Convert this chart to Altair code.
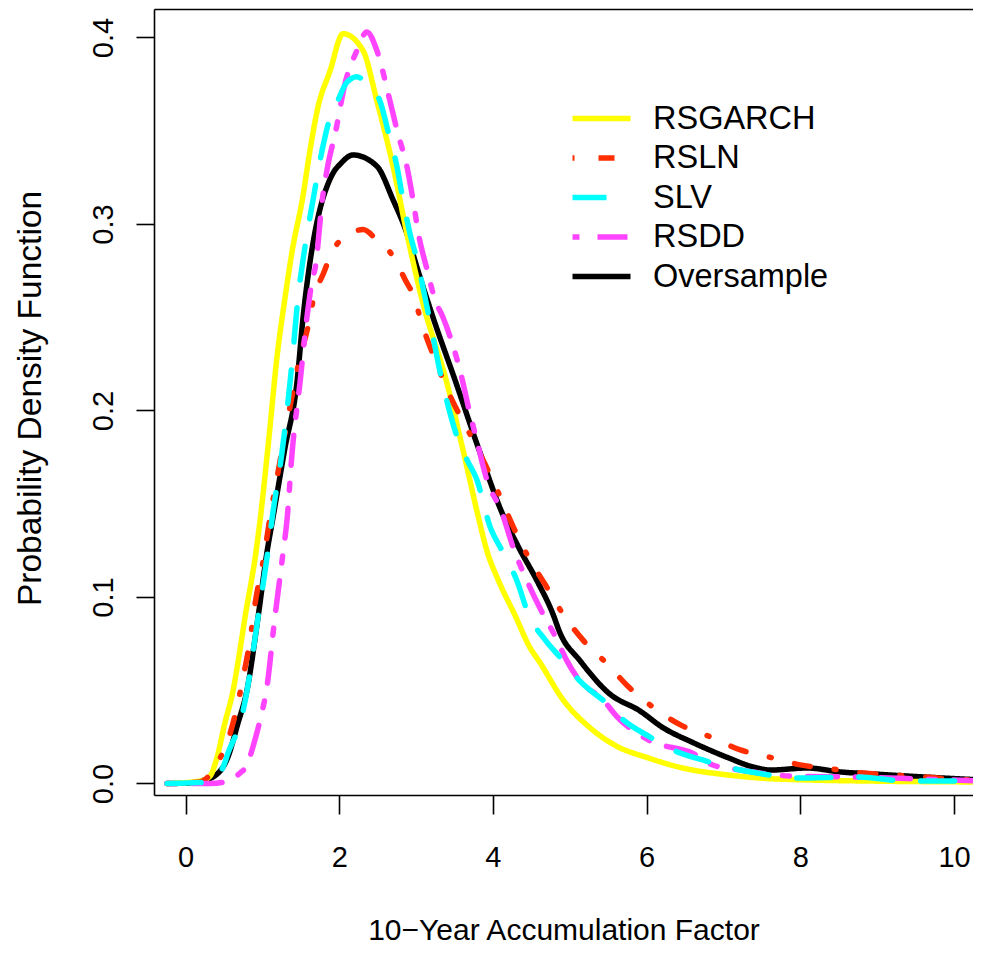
import altair as alt
import pandas as pd

# series order as drawn (first = bottom)
draw_order = ["Oversample", "RSGARCH", "RSLN", "RSDD", "SLV"]
legend_order = ["RSGARCH", "RSLN", "SLV", "RSDD", "Oversample"]

rsgarch_x = [-0.24, 0.19, 0.32, 0.41, 0.51, 0.62, 0.71, 0.77, 0.92, 0.97, 1.07, 1.20, 1.29, 1.39,
             1.52, 1.63, 1.72, 1.88, 2.05, 2.31, 2.49, 2.70, 2.88, 3.08, 3.40, 3.61, 3.81, 3.92,
             4.07, 4.29, 4.48, 4.61, 4.91, 5.26, 5.61, 6.00, 6.47, 7.05, 7.48, 8.09, 8.91, 10.35]
rsgarch_y = [0, 0.0013, 0.004, 0.014, 0.032, 0.050, 0.072, 0.088, 0.125, 0.141, 0.179, 0.232, 0.259, 0.286,
             0.313, 0.342, 0.362, 0.382, 0.402, 0.393, 0.366, 0.331, 0.295, 0.259, 0.215, 0.179, 0.143, 0.125,
             0.109, 0.090, 0.073, 0.065, 0.045, 0.030, 0.020, 0.014, 0.0083, 0.0046, 0.0029, 0.0019, 0.0013, 0.0008]

over_x = [-0.24, 0.12, 0.25, 0.36, 0.55, 0.68, 0.80, 0.94, 1.06, 1.14, 1.29, 1.45, 1.53, 1.66, 1.75,
          1.84, 1.93, 2.01, 2.18, 2.49, 2.70, 2.88, 3.01, 3.22, 3.51, 3.81, 4.12, 4.33, 4.57, 4.78, 4.87,
          5.13, 5.52, 5.91, 6.21, 6.60, 7.05, 7.39, 7.61, 8.09, 8.52, 8.95, 9.60, 10.35]
over_y = [0, 0.0003, 0.002, 0.0035, 0.014, 0.032, 0.050, 0.088, 0.124, 0.143, 0.179, 0.215, 0.250, 0.290, 0.308,
          0.320, 0.328, 0.332, 0.337, 0.331, 0.313, 0.295, 0.277, 0.250, 0.216, 0.180, 0.145, 0.127, 0.109, 0.091, 0.081,
          0.066, 0.048, 0.039, 0.030, 0.022, 0.014, 0.0088, 0.0072, 0.0083, 0.0062, 0.0051, 0.0035, 0.0019]

slv_x = [-0.24, 0.32, 0.51, 0.55, 0.68, 0.77, 0.81, 0.94, 1.07, 1.13, 1.26, 1.36, 1.40, 1.46, 1.53, 1.66,
         1.78, 1.88, 1.98, 2.10, 2.23, 2.34, 2.53, 2.64, 2.75, 2.83, 2.92, 3.01, 3.15, 3.36, 3.55, 3.67,
         3.79, 3.96, 4.13, 4.31, 4.46, 4.68, 4.91, 5.13, 5.48, 5.70, 6.04, 6.34, 6.73, 7.05, 7.44, 7.96,
         8.74, 9.39, 10.35]
slv_y = [0, 0.0008, 0.011, 0.016, 0.029, 0.043, 0.052, 0.088, 0.124, 0.143, 0.179, 0.215, 0.232, 0.259, 0.281, 0.313,
         0.340, 0.357, 0.366, 0.376, 0.379, 0.376, 0.366, 0.349, 0.331, 0.313, 0.295, 0.281, 0.254, 0.212, 0.184, 0.173,
         0.163, 0.138, 0.124, 0.109, 0.091, 0.077, 0.066, 0.055, 0.043, 0.034, 0.025, 0.018, 0.0126, 0.0088, 0.0056, 0.0029,
         0.0035, 0.0013, 0.0013]

rsdd_x = [-0.24, 0.32, 0.51, 0.62, 0.71, 0.80, 0.88, 0.97, 1.06, 1.16, 1.27, 1.32, 1.39, 1.49, 1.58, 1.65,
          1.69, 1.78, 1.85, 1.95, 2.08, 2.23, 2.36, 2.49, 2.66, 2.76, 2.88, 2.96, 3.03, 3.14, 3.25, 3.35,
          3.61, 3.68, 3.79, 3.92, 4.12, 4.26, 4.44, 4.65, 4.81, 4.96, 5.13, 5.43, 5.61, 6.04, 6.61, 6.86,
          7.22, 7.87, 8.65, 9.56, 10.35]
rsdd_y = [0, 0, 0.0008, 0.003, 0.0056, 0.0099, 0.020, 0.034, 0.052, 0.088, 0.124, 0.141, 0.179, 0.215, 0.250, 0.270,
          0.277, 0.313, 0.331, 0.349, 0.376, 0.393, 0.403, 0.393, 0.366, 0.349, 0.331, 0.313, 0.295, 0.276, 0.259, 0.250,
          0.215, 0.202, 0.184, 0.163, 0.145, 0.127, 0.109, 0.091, 0.079, 0.066, 0.055, 0.045, 0.036, 0.023, 0.016, 0.0099,
          0.0072, 0.004, 0.0035, 0.0024, 0.0013]

rsln_x = [-0.24, 0.19, 0.28, 0.38, 0.55, 0.67, 0.75, 0.84, 0.90, 1.03, 1.10, 1.20, 1.36, 1.46, 1.62, 1.66,
          1.79, 1.92, 2.11, 2.31, 2.50, 2.66, 2.86, 2.99, 3.05, 3.25, 3.44, 3.68, 3.90, 4.07, 4.26, 4.48,
          4.69, 4.91, 5.17, 5.49, 5.76, 6.08, 6.46, 6.83, 7.22, 7.61, 8.00, 8.41, 8.82, 9.21, 9.62, 9.95, 10.35]
rsln_y = [0, 0.0008, 0.003, 0.0089, 0.023, 0.041, 0.057, 0.077, 0.095, 0.124, 0.143, 0.166, 0.202, 0.223, 0.250, 0.259,
          0.273, 0.286, 0.294, 0.297, 0.291, 0.285, 0.270, 0.259, 0.250, 0.227, 0.208, 0.189, 0.171, 0.156, 0.138, 0.120,
          0.106, 0.091, 0.077, 0.064, 0.052, 0.041, 0.031, 0.025, 0.018, 0.014, 0.010, 0.0078, 0.0056, 0.0046, 0.0035,
          0.0024, 0.0019]

series = {
    "Oversample": (over_x, over_y),
    "RSGARCH": (rsgarch_x, rsgarch_y),
    "RSLN": (rsln_x, rsln_y),
    "RSDD": (rsdd_x, rsdd_y),
    "SLV": (slv_x, slv_y),
}

colors = ["#FFFF00", "#FF2E00", "#00FFFF", "#FF44FF", "#000000"]
dashes = [[1, 0], [2, 24, 16, 24], [34, 28], [7, 18, 30, 18], [1, 0]]

x_ticks = [0, 2, 4, 6, 8, 10]
y_ticks = [0.0, 0.1, 0.2, 0.3, 0.4]

rows = []
for name in draw_order:
    xs, ys = series[name]
    for i, (xv, yv) in enumerate(zip(xs, ys)):
        rows.append({"model": name, "x": xv, "y": yv, "i": i})
df = pd.DataFrame(rows)

FONT = "Liberation Sans"
# plot box 154..973 x 9..795 on the page
x_scale = alt.Scale(domain=[-0.41, 10.247], nice=False, zero=False)
y_scale = alt.Scale(domain=[-0.00617, 0.41528], nice=False, zero=False)

# long thin stroke symbol: path drawn at twice the nominal symbol size
legend = alt.Legend(
    title=None, orient="none", legendX=430, legendY=92, padding=0,
    symbolType="M-2,0H2", symbolSize=841, symbolStrokeWidth=5.5,
    labelFont=FONT, labelFontSize=32.5, labelColor="black", labelOffset=34,
    rowPadding=5.5, labelLimit=400,
)

y_axis = alt.Axis(
    orient="left", values=y_ticks, format=".1f", title="Probability Density Function",
    tickSize=18, labelPadding=24, labelFontSize=29, labelAngle=270,
    labelAlign="center", labelBaseline="alphabetic", labelFlush=False,
    titleFontSize=33.5, titleAngle=270, titleX=-114, titleY=389,
    titleAlign="center", titleBaseline="alphabetic",
)

lines = alt.Chart(df).mark_line(
    strokeWidth=5.5, strokeCap="round", strokeJoin="round", interpolate="monotone"
).encode(
    x=alt.X("x:Q", scale=x_scale, axis=alt.Axis(
        orient="bottom", values=x_ticks, format="d", title="10\u2212Year Accumulation Factor",
        tickSize=19, labelPadding=29, labelFontSize=29, labelFlush=False,
        titleFontSize=30, titleY=144, titleBaseline="alphabetic",
    )),
    y=alt.Y("y:Q", scale=y_scale, axis=y_axis),
    color=alt.Color("model:N", scale=alt.Scale(domain=legend_order, range=colors), legend=legend),
    strokeDash=alt.StrokeDash("model:N", scale=alt.Scale(domain=legend_order, range=dashes), legend=legend),
    order="i:Q",
)

# top edge of the box
top = alt.Chart(df).mark_line(opacity=0).encode(
    x=alt.X("x:Q", scale=x_scale, axis=alt.Axis(
        orient="top", labels=False, ticks=False, title=None, domain=True)),
    y=alt.Y("y:Q", scale=y_scale, axis=y_axis),
    detail="model:N",
)

chart = alt.layer(lines, top).properties(
    width=819, height=786,
    autosize=alt.AutoSizeParams(type="none"),
    padding={"left": 146, "top": 1, "right": 0, "bottom": 151},
).configure_view(stroke=None).configure_axis(
    grid=False, domainColor="black", domainWidth=1.6, tickColor="black", tickWidth=1.6,
    labelColor="black", titleColor="black", labelFont=FONT, titleFont=FONT,
    titleFontWeight="normal",
)

chart.save("out.html", embed_options={"renderer": "svg", "actions": False})
